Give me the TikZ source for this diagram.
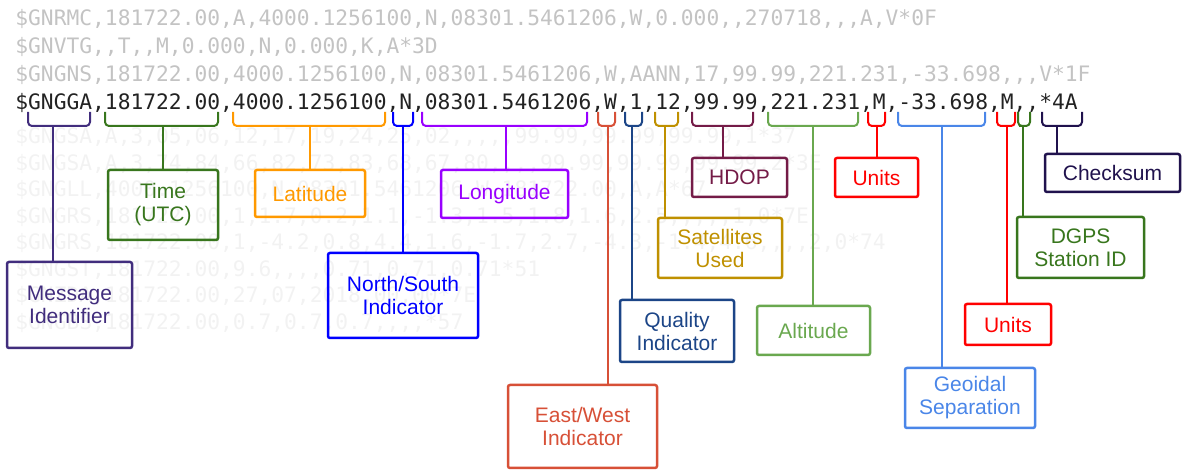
\documentclass[tikz,border=0pt]{standalone}
\usepackage{fontspec}
\setmainfont{Liberation Sans}
\setmonofont{DejaVu Sans Mono}
\definecolor{topgray}{RGB}{195,195,195}
\definecolor{fadegray}{RGB}{242,242,242}
\definecolor{maingray}{RGB}{34,34,34}
\definecolor{msgc}{RGB}{65,45,125}
\definecolor{timec}{RGB}{56,118,29}
\definecolor{latc}{RGB}{255,153,0}
\definecolor{nsc}{RGB}{0,0,255}
\definecolor{lonc}{RGB}{153,0,255}
\definecolor{ewc}{RGB}{215,80,55}
\definecolor{qualc}{RGB}{28,69,135}
\definecolor{satc}{RGB}{191,144,0}
\definecolor{hdopc}{RGB}{116,27,71}
\definecolor{altc}{RGB}{106,168,79}
\definecolor{unitc}{RGB}{255,0,0}
\definecolor{geoc}{RGB}{74,134,232}
\definecolor{chkc}{RGB}{32,18,77}

\begin{document}
\begin{tikzpicture}[x=0.5pt,y=-0.5pt,
  nmea/.style={font=\ttfamily\fontsize{10.63}{13}\selectfont, inner sep=0pt, anchor=base west},
  lbl/.style={draw=#1, text=#1, line width=1.25pt, rounded corners=1pt, align=center,
    font=\fontsize{10.5}{11.5}\selectfont},
  brk/.style={draw=#1, line width=1pt, rounded corners=2pt}]
\useasboundingbox (0,0) rectangle (1190,470);
% the sentences
\node[nmea, text=topgray] (rmc) at (15,26) {\$GNRMC,181722.00,A,4000.1256100,N,08301.5461206,W,0.000,,270718,,,A,V*0F};
\node[nmea, text=topgray] (vtg) at (15,54) {\$GNVTG,,T,,M,0.000,N,0.000,K,A*3D};
\node[nmea, text=topgray] (gns) at (15,82) {\$GNGNS,181722.00,4000.1256100,N,08301.5461206,W,AANN,17,99.99,221.231,-33.698,,,V*1F};
\node[nmea, text=maingray] (gga) at (15,110) {\$GNGGA,181722.00,4000.1256100,N,08301.5461206,W,1,12,99.99,221.231,M,-33.698,M,,*4A};
\node[nmea, text=fadegray] (gsa1) at (15,144) {\$GNGSA,A,3,05,06,12,17,19,24,25,02,,,,,99.99,99.99,99.99,1*37};
\node[nmea, text=fadegray] (gsa2) at (15,170.5) {\$GNGSA,A,3,74,84,66,82,73,83,68,67,80,,,,99.99,99.99,99.99,2*3E};
\node[nmea, text=fadegray] (gll) at (15,197) {\$GNGLL,4000.1256100,N,08301.5461206,W,181722.00,A,A*67};
\node[nmea, text=fadegray] (grs1) at (15,223.5) {\$GNGRS,181722.00,1,1.7,0.2,1.1,-1.3,1.5,1.8,1.6,2.5,,,,,1,0*7E};
\node[nmea, text=fadegray] (grs2) at (15,250) {\$GNGRS,181722.00,1,-4.2,0.8,4.4,1.6,-1.7,2.7,-4.3,-1.4,4.6,,,,2,0*74};
\node[nmea, text=fadegray] (gst) at (15,276.5) {\$GNGST,181722.00,9.6,,,,0.71,0.71,0.71*51};
\node[nmea, text=fadegray] (zda) at (15,303) {\$GNZDA,181722.00,27,07,2018,00,00*7E};
\node[nmea, text=fadegray] (gbs) at (15,329.5) {\$GNGBS,181722.00,0.7,0.7,0.7,,,,*57};
% the labels
\node[lbl=msgc, minimum width=62.5pt, minimum height=43pt] (msg) at (69.5,305) {Message\\Identifier};
\node[lbl=timec, minimum width=55pt, minimum height=35pt] (time) at (163,205) {Time\\(UTC)};
\node[lbl=latc, minimum width=55pt, minimum height=23.5pt] (lat) at (310,193.5) {Latitude};
\node[lbl=nsc, minimum width=75pt, minimum height=42.5pt] (ns) at (403,295.5) {North/South\\Indicator};
\node[lbl=lonc, minimum width=63.5pt, minimum height=24pt] (lon) at (504.5,194) {Longitude};
\node[lbl=ewc, minimum width=74.5pt, minimum height=41.5pt] (ew) at (582.5,426.5) {East/West\\Indicator};
\node[lbl=qualc, minimum width=57pt, minimum height=31pt] (qual) at (677,331) {Quality\\Indicator};
\node[lbl=satc, minimum width=62pt, minimum height=30pt] (sat) at (720,248) {Satellites\\Used};
\node[lbl=hdopc, minimum width=47.5pt, minimum height=19.5pt] (hdop) at (739.5,177.5) {HDOP};
\node[lbl=altc, minimum width=56.5pt, minimum height=24.5pt] (alt) at (813.5,330.5) {Altitude};
\node[lbl=unitc, minimum width=41.5pt, minimum height=19.5pt] (unita) at (876.5,177.5) {Units};
\node[lbl=geoc, minimum width=65pt, minimum height=30pt] (geo) at (970,398) {Geoidal\\Separation};
\node[lbl=unitc, minimum width=43pt, minimum height=20.5pt] (unitb) at (1008,324.5) {Units};
\node[lbl=timec, minimum width=63.5pt, minimum height=30.5pt] (dgps) at (1080.5,247.5) {DGPS\\Station ID};
\node[lbl=chkc, minimum width=67.5pt, minimum height=19pt] (chk) at (1112.5,173) {Checksum};
% brackets and stems
\draw[brk=msgc] (28,112) |- (53,126) coordinate (msgb) -| (90,112);
\draw[brk=msgc] (msgb) -- (msgb |- msg.north);
\draw[brk=timec] (105,112) |- (163,126) coordinate (timeb) -| (218,112);
\draw[brk=timec] (timeb) -- (time);
\draw[brk=latc] (233,112) |- (310,126) coordinate (latb) -| (385,112);
\draw[brk=latc] (latb) -- (lat);
\draw[brk=nsc] (393,112) |- (403,126) coordinate (nsb) -| (413,112);
\draw[brk=nsc] (nsb) -- (ns);
\draw[brk=lonc] (422,112) |- (506,126) coordinate (lonb) -| (587,112);
\draw[brk=lonc] (lonb) -- (lonb |- lon.north);
\draw[brk=ewc] (598,112) |- (608,126) coordinate (ewb) -| (615,112);
\draw[brk=ewc] (ewb) -- (ewb |- ew.north);
\draw[brk=qualc] (625,112) |- (632,126) coordinate (qualb) -| (642,112);
\draw[brk=qualc] (qualb) -- (qualb |- qual.north);
\draw[brk=satc] (655,112) |- (665,126) coordinate (satb) -| (678,112);
\draw[brk=satc] (satb) -- (satb |- sat.north);
\draw[brk=hdopc] (692,112) |- (723,126) coordinate (hdopb) -| (753,112);
\draw[brk=hdopc] (hdopb) -- (hdopb |- hdop.north);
\draw[brk=altc] (768,112) |- (813,126) coordinate (altb) -| (858,112);
\draw[brk=altc] (altb) -- (altb |- alt.north);
\draw[brk=unitc] (868,112) |- (877,126) coordinate (unitab) -| (885,112);
\draw[brk=unitc] (unitab) -- (unitab |- unita.north);
\draw[brk=geoc] (898,112) |- (942,126) coordinate (geob) -| (985,112);
\draw[brk=geoc] (geob) -- (geob |- geo.north);
\draw[brk=unitc] (997,112) |- (1007,126) coordinate (unitbb) -| (1015,112);
\draw[brk=unitc] (unitbb) -- (unitbb |- unitb.north);
\draw[brk=timec] (1018,112) |- (1023,126) coordinate (dgpsb) -| (1030,112);
\draw[brk=timec] (dgpsb) -- (dgpsb |- dgps.north);
\draw[brk=chkc] (1042,112) |- (1057,126) coordinate (chkb) -| (1082,112);
\draw[brk=chkc] (chkb) -- (chkb |- chk.north);
\end{tikzpicture}
\end{document}
